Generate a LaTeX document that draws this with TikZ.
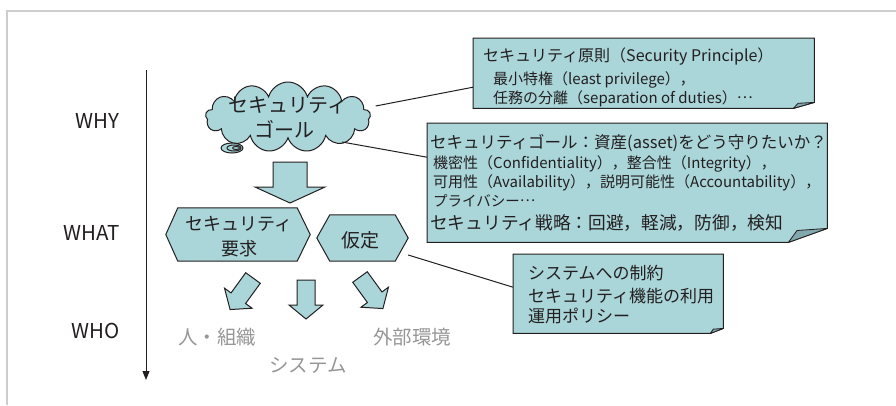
\documentclass[tikz,border=0pt]{standalone}
\usepackage{fontspec}
\setmainfont{Noto Sans CJK JP}
\usetikzlibrary{shapes.symbols,calc,arrows.meta}
\definecolor{tealfill}{RGB}{170,213,217}
\definecolor{foldfill}{RGB}{128,168,173}
\definecolor{ink}{RGB}{35,31,32}
\definecolor{graytext}{RGB}{150,150,150}
\definecolor{framegray}{RGB}{205,205,205}
\newcommand\drawfoldbox[3]{%
  \path[shapestyle] (#1.north west) -- (#1.north east) -- ($(#1.south east)+(0,-#3)$) -- ($(#1.south east)+(-#2,0)$) -- (#1.south west) -- cycle;
  \path[draw=ink, line width=0.8pt, fill=foldfill, line join=round] ($(#1.south east)+(-#2,0)$) -- ($(#1.south east)+(-0.78*#2,-0.85*#3)$) -- ($(#1.south east)+(0,-#3)$) -- cycle;}
\newcommand\middots{\raisebox{0.3em}{…}}
\tikzset{
  shapestyle/.style={draw=ink, line width=1pt, fill=tealfill, line join=miter},
  boxanchor/.style={inner sep=0pt, minimum width=#1, anchor=north west},
  lbl/.style={inner sep=0pt, text=ink, anchor=base west},
  side/.style={inner sep=0pt, text=ink, anchor=base east, font=\fontsize{20.5}{24}\selectfont},
  grey/.style={inner sep=0pt, text=graytext, anchor=base, font=\fontsize{19.5}{24}\selectfont},
  conn/.style={draw=ink, line width=1pt},
  bigarrow/.pic={\path[shapestyle] (-17,0) -- (17,0) -- (17,25) -- (35,25) -- (0,41) -- (-35,25) -- (-17,25) -- cycle;},
  smallarrow/.pic={\path[shapestyle] (-9,0) -- (9,0) -- (9,25) -- (17,25) -- (0,39) -- (-17,25) -- (-9,25) -- cycle;}
}
\begin{document}
\begin{tikzpicture}[x=1pt,y=-1pt]
\useasboundingbox (0,0) rectangle (896,405);
% frame
\draw[framegray, line width=1.2pt] (896,11) -- (7,11) -- (7,405);
% axis
\coordinate (axtop) at (146,70);
\coordinate (axbot) at (146,380);
\draw[ink, line width=1pt, -{Triangle[width=7pt,length=9pt]}] (axtop) -- (axbot);
\node[side] (why) at (120,128) {WHY};
\node[side] (what) at (120,240) {WHAT};
\node[side] (who) at (120,338) {WHO};
% cloud
\node[cloud, cloud puffs=13, cloud ignores aspect, minimum width=165pt, minimum height=70pt, shapestyle] (goal) at (288,117) {};
\path[shapestyle] (232,148) ellipse [x radius=11, y radius=5];
\path[shapestyle] (234,148) ellipse [x radius=7, y radius=3];
\path[shapestyle] (236,148) ellipse [x radius=3.5, y radius=1.5];
\node[inner sep=0pt, text=ink, anchor=base, font=\fontsize{20}{24}\selectfont] (goal1) at (288,112) {セキュリティ};
\node[inner sep=0pt, text=ink, anchor=base, font=\fontsize{20}{24}\selectfont] (goal2) at (284,137) {ゴール};
% big arrow
\pic at (290,162) {bigarrow};
% hexagons
\node[inner sep=0pt, minimum width=119pt, minimum height=53pt] (reqbox) at (237.5,234.5) {};
\path[shapestyle] (reqbox.north west) -- (reqbox.north east) -- ($(reqbox.east)+(13,0)$) -- (reqbox.south east) -- (reqbox.south west) -- ($(reqbox.west)+(-12,0)$) -- cycle;
\node[inner sep=0pt, text=ink, anchor=base, font=\fontsize{18}{22}\selectfont] (req1) at (239,230) {セキュリティ};
\node[inner sep=0pt, text=ink, anchor=base, font=\fontsize{18}{22}\selectfont] (req2) at (239,255) {要求};
\node[inner sep=0pt, minimum width=65pt, minimum height=46pt] (asmbox) at (362.5,238) {};
\path[shapestyle] (asmbox.north west) -- (asmbox.north east) -- ($(asmbox.east)+(13,0)$) -- (asmbox.south east) -- (asmbox.south west) -- ($(asmbox.west)+(-13,0)$) -- cycle;
\node[inner sep=0pt, text=ink, anchor=base, font=\fontsize{19}{22}\selectfont] (asm) at (360,247) {仮定};
% small arrows
\pic[rotate=-36] at (253,278) {smallarrow};
\pic at (306,280) {smallarrow};
\pic[rotate=36] at (360,277) {smallarrow};
% grey labels
\node[grey] (people) at (217,344) {人・組織};
\node[grey] (system) at (308,372) {システム};
\node[grey] (env) at (412,344) {外部環境};
% callout 1
\node[boxanchor=341pt, minimum height=70pt] (b1) at (473,38) {};
\drawfoldbox{b1}{21}{6}
\node[lbl, font=\fontsize{16}{20}\selectfont] (b1l1) at (483,61) {セキュリティ原則（Security Principle）};
\node[lbl, font=\fontsize{15}{18}\selectfont] (b1l2) at (493,84) {最小特権（least privilege），};
\node[lbl, font=\fontsize{15}{18}\selectfont] (b1l3) at (493,103) {任務の分離（separation of duties）\middots};
% callout 2
\node[boxanchor=400pt, minimum height=119pt] (b2) at (427,123) {};
\drawfoldbox{b2}{39}{14}
\node[lbl, font=\fontsize{16.5}{20}\selectfont] (b2l1) at (430,148) {セキュリティゴール：資産(asset)をどう守りたいか？};
\node[lbl, font=\fontsize{15}{18}\selectfont] (b2l2) at (433,168.5) {機密性（Confidentiality），整合性（Integrity），};
\node[lbl, font=\fontsize{15}{18}\selectfont] (b2l3) at (433,187) {可用性（Availability），説明可能性（Accountability），};
\node[lbl, font=\fontsize{14.5}{18}\selectfont] (b2l4) at (433,206) {プライバシー\middots};
\node[lbl, font=\fontsize{17.7}{20}\selectfont] (b2l5) at (430,229) {セキュリティ戦略：回避，軽減，防御，検知};
% callout 3
\node[boxanchor=210pt, minimum height=79pt] (b3) at (513,254) {};
\drawfoldbox{b3}{13}{5}
\node[lbl, font=\fontsize{17}{21}\selectfont] (b3l1) at (528,279) {システムへの制約};
\node[lbl, font=\fontsize{17}{21}\selectfont] (b3l2) at (528,302) {セキュリティ機能の利用};
\node[lbl, font=\fontsize{17}{21}\selectfont] (b3l3) at (528,322) {運用ポリシー};
% connectors
\draw[conn] ($(goal.east)+(5,-11)$) -- ($(b1.west)+(0,14)$);
\draw[conn] ($(goal.center)+(54,25)$) -- ($(b2.west)+(0,-25.5)$);
\draw[conn] ($(asmbox.east)+(13,17)$) -- ($(b3.west)+(0,-6.5)$);
\end{tikzpicture}
\end{document}
